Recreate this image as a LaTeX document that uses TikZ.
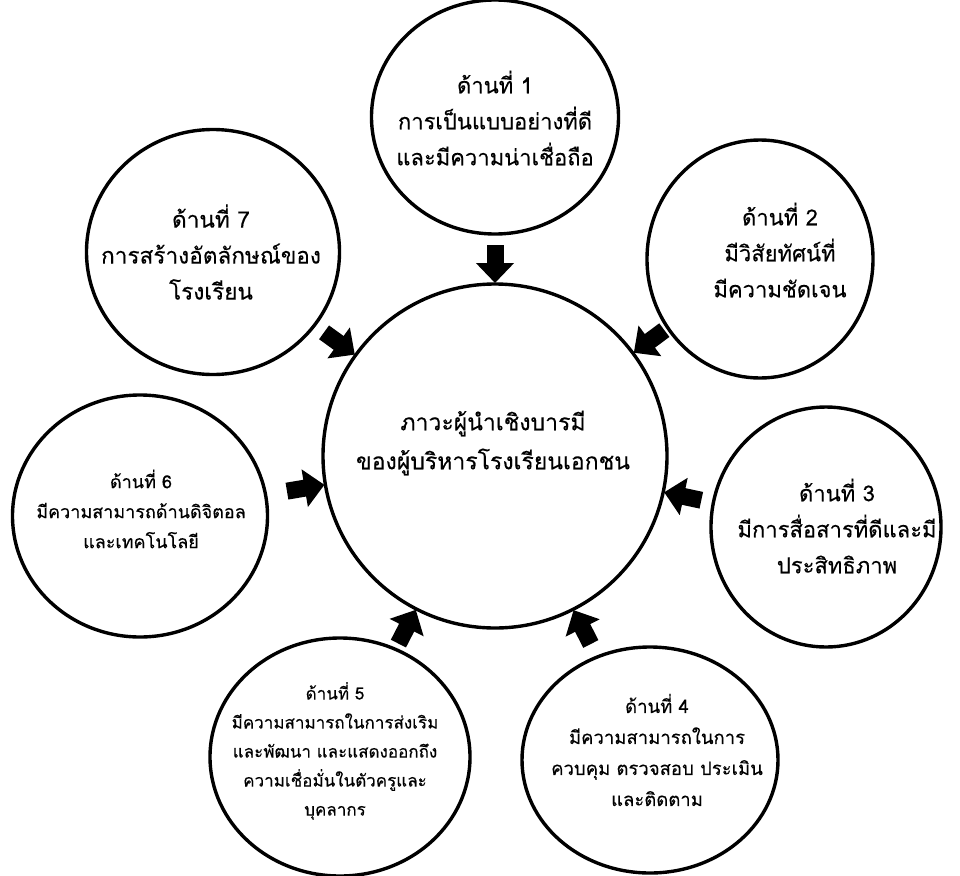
\documentclass[tikz,border=0pt]{standalone}
\usepackage{fontspec}
\newfontfamily\thai[Script=Thai,FakeBold=0.3]{Loma}
\usetikzlibrary{arrows.meta,calc,shapes.geometric}
\tikzset{
  ring/.style={ellipse,draw=black,line width=3.4pt,inner sep=0pt},
  bigtxt/.style={align=center,font=\fontsize{22}{36}\thai},
  smalltxt/.style={align=center,font=\fontsize{18}{30}\thai},
  maintxt/.style={align=center,font=\fontsize{23}{39}\thai},
  blockarrow/.style={line width=17pt,-{Triangle[length=20pt,width=37pt]}}
}
\begin{document}
\begin{tikzpicture}[x=1pt,y=-1pt]
\useasboundingbox (0,0) rectangle (960,875);
\node[ring,minimum width=344pt,minimum height=344pt] (c0) at (495,456) {};
\node[ring,minimum width=247pt,minimum height=234pt] (c1) at (495,117) {};
\node[ring,minimum width=226pt,minimum height=238pt] (c2) at (760,259) {};
\node[ring,minimum width=230pt,minimum height=240pt] (c3) at (826,527) {};
\node[ring,minimum width=256pt,minimum height=226pt] (c4) at (650,760) {};
\node[ring,minimum width=260pt,minimum height=238pt] (c5) at (340,757) {};
\node[ring,minimum width=255pt,minimum height=242pt] (c6) at (140,516) {};
\node[ring,minimum width=253pt,minimum height=245pt] (c7) at (213,252) {};

\node[maintxt] (t0) at (493,443) {ภาวะผู้นำเชิงบารมี\\ของผู้บริหารโรงเรียนเอกชน};
\node[bigtxt] (t1) at (495,118) {ด้านที่ 1\\การเป็นแบบอย่างที่ดี\\และมีความน่าเชื่อถือ};
\node[bigtxt] (t2) at (780,250) {ด้านที่ 2\\มีวิสัยทัศน์ที่\\มีความชัดเจน};
\node[bigtxt] (t3) at (837,526) {ด้านที่ 3\\มีการสื่อสารที่ดีและมี\\ประสิทธิภาพ};
\node[smalltxt,font=\fontsize{18.5}{31}\thai] (t4) at (657,750) {ด้านที่ 4\\มีความสามารถในการ\\ควบคุม ตรวจสอบ ประเมิน\\และติดตาม};
\node[smalltxt,font=\fontsize{17}{29}\thai] (t5) at (335,751) {ด้านที่ 5\\มีความสามารถในการส่งเริม\\และพัฒนา และแสดงออกถึง\\ความเชื่อมั่นในตัวครูและ\\บุคลากร};
\node[smalltxt] (t6) at (141,509) {ด้านที่ 6\\มีความสามารถด้านดิจิตอล\\และเทคโนโลยี};
\node[bigtxt,font=\fontsize{22.6}{36}\thai] (t7) at (211,252) {ด้านที่ 7\\การสร้างอัตลักษณ์ของ\\โรงเรียน};

\foreach \n in {c1,c2,c3,c4,c5,c6,c7}{
  \draw[blockarrow] ($(c0)!211pt!(\n)$) -- ($(c0)!173pt!(\n)$);
}
\end{tikzpicture}
\end{document}
